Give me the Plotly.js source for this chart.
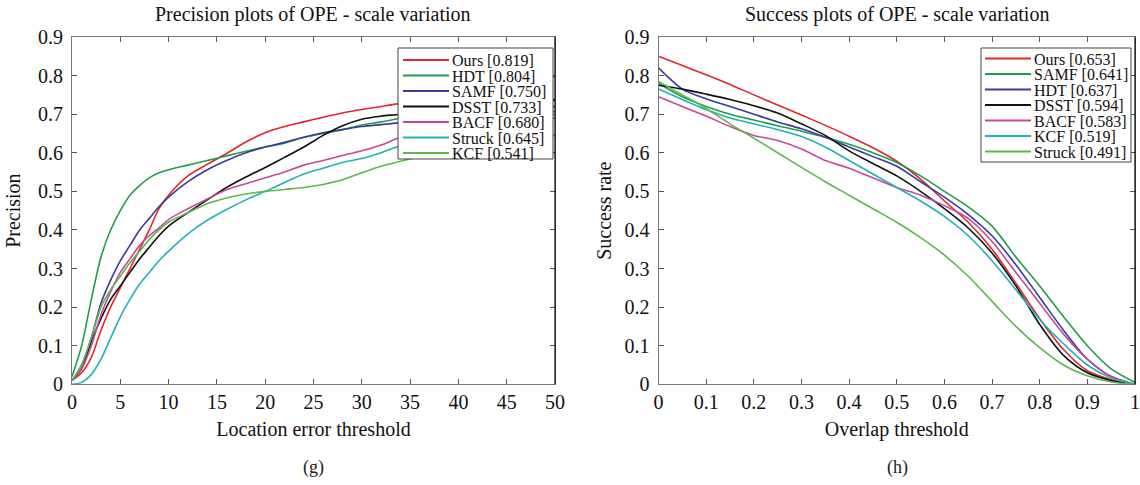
<!DOCTYPE html>
<html>
<head>
<meta charset="utf-8">
<script src="https://cdn.plot.ly/plotly-3.0.1.min.js"></script>
<style>html,body{margin:0;padding:0;background:#fff;}#chart{width:1140px;height:485px;}</style>
</head>
<body>
<div id="chart"></div>
<script>
// ---------- Precision plot (left) ----------
const precX = [0,1,2,3,4,5,6,7,8,9,10,12,14,16,18,20,22,24,26,28,30,32,34,36,38,40,42,44,46,48,50];
const precNames = ["Ours [0.819]","HDT [0.804]","SAMF [0.750]","DSST [0.733]","BACF [0.680]","Struck [0.645]","KCF [0.541]"];
const precOurs   = [0.01,0.03,0.07,0.14,0.20,0.25,0.30,0.35,0.40,0.455,0.49,0.54,0.57,0.598,0.628,0.652,0.668,0.68,0.692,0.703,0.712,0.72,0.728,0.735,0.745,0.755,0.765,0.773,0.782,0.79,0.798];
const precHDT    = [0.02,0.10,0.22,0.33,0.40,0.45,0.49,0.515,0.535,0.548,0.556,0.568,0.58,0.592,0.604,0.615,0.625,0.64,0.65,0.66,0.672,0.68,0.69,0.70,0.705,0.71,0.715,0.72,0.725,0.73,0.735];
const precSAMF   = [0.01,0.05,0.12,0.21,0.27,0.32,0.36,0.40,0.43,0.46,0.485,0.525,0.556,0.58,0.60,0.615,0.627,0.64,0.652,0.66,0.668,0.673,0.678,0.684,0.69,0.695,0.70,0.705,0.71,0.715,0.72];
const precDSST   = [0.01,0.04,0.11,0.17,0.22,0.255,0.29,0.325,0.355,0.385,0.41,0.445,0.478,0.51,0.537,0.562,0.588,0.615,0.645,0.67,0.687,0.695,0.70,0.708,0.713,0.718,0.722,0.726,0.73,0.734,0.738];
const precBACF   = [0.01,0.04,0.10,0.18,0.24,0.29,0.325,0.36,0.385,0.405,0.427,0.455,0.48,0.504,0.52,0.535,0.55,0.568,0.58,0.593,0.605,0.62,0.64,0.65,0.66,0.672,0.68,0.688,0.695,0.70,0.707];
const precStruck = [0.0,0.005,0.025,0.065,0.12,0.175,0.22,0.26,0.29,0.32,0.345,0.39,0.425,0.453,0.478,0.50,0.523,0.545,0.56,0.575,0.585,0.60,0.618,0.628,0.64,0.65,0.66,0.668,0.676,0.683,0.69];
const precKCF    = [0.01,0.05,0.12,0.20,0.245,0.28,0.315,0.345,0.375,0.40,0.42,0.445,0.468,0.483,0.493,0.50,0.505,0.51,0.518,0.53,0.548,0.565,0.578,0.59,0.60,0.61,0.618,0.625,0.632,0.638,0.645];
const precSeries = [precOurs,precHDT,precSAMF,precDSST,precBACF,precStruck,precKCF];

// ---------- Success plot (right) ----------
const succX = [0,0.05,0.1,0.15,0.2,0.25,0.3,0.35,0.4,0.45,0.5,0.55,0.6,0.65,0.7,0.75,0.8,0.85,0.9,0.95,1.0];
const succNames = ["Ours [0.653]","SAMF [0.641]","HDT [0.637]","DSST [0.594]","BACF [0.583]","KCF [0.519]","Struck [0.491]"];
const succOurs   = [0.85,0.826,0.802,0.777,0.75,0.724,0.698,0.671,0.643,0.613,0.578,0.532,0.475,0.42,0.35,0.262,0.17,0.09,0.035,0.012,0.0];
const succSAMF   = [0.78,0.745,0.72,0.70,0.685,0.67,0.656,0.64,0.622,0.60,0.575,0.54,0.50,0.46,0.41,0.33,0.255,0.175,0.10,0.04,0.005];
const succHDT    = [0.82,0.765,0.74,0.72,0.70,0.68,0.662,0.64,0.615,0.59,0.565,0.525,0.485,0.44,0.385,0.31,0.225,0.14,0.065,0.02,0.0];
const succDSST   = [0.775,0.765,0.752,0.738,0.722,0.703,0.675,0.645,0.605,0.572,0.54,0.50,0.455,0.405,0.34,0.255,0.155,0.075,0.03,0.01,0.0];
const succBACF   = [0.745,0.72,0.695,0.668,0.645,0.632,0.61,0.58,0.56,0.535,0.51,0.49,0.463,0.43,0.37,0.29,0.21,0.13,0.065,0.02,0.0];
const succKCF    = [0.765,0.738,0.712,0.69,0.675,0.66,0.642,0.615,0.58,0.545,0.51,0.475,0.435,0.385,0.32,0.245,0.168,0.105,0.05,0.016,0.0];
const succStruck = [0.785,0.75,0.715,0.675,0.638,0.60,0.562,0.525,0.49,0.455,0.42,0.38,0.335,0.28,0.215,0.15,0.095,0.05,0.022,0.006,0.0];
const succSeries = [succOurs,succSAMF,succHDT,succDSST,succBACF,succKCF,succStruck];

const rankColors = ["#e5262b","#1f9e4a","#3a3a9c","#111111","#c8479e","#1fb3b8","#5cb848"];

const W = 1140, H = 485;
const px = v => v / W, py = v => 1 - v / H;
const FONT = "Liberation Serif, Times New Roman, serif";

const traces = [];
precSeries.forEach((ys, i) => traces.push({
  x: precX, y: ys, name: precNames[i], type: "scatter", mode: "lines",
  line: {color: rankColors[i], width: 1.6, shape: "spline", smoothing: 0.8},
  xaxis: "x", yaxis: "y", showlegend: false
}));
succSeries.forEach((ys, i) => traces.push({
  x: succX, y: ys, name: succNames[i], type: "scatter", mode: "lines",
  line: {color: rankColors[i], width: 1.6, shape: "spline", smoothing: 0.8},
  xaxis: "x2", yaxis: "y2", showlegend: false
}));

const axisCommon = {
  showgrid: false, zeroline: false, showline: true, linecolor: "#777", linewidth: 1,
  mirror: "ticks", ticks: "inside", ticklen: 5, tickcolor: "#555",
  tickfont: {family: FONT, size: 20, color: "#111"}, ticklabeloverflow: "allow"
};
const yDom = [py(384.3), py(37)];
const titleFont = {family: FONT, size: 20, color: "#111"};
const yTicks = [0,0.1,0.2,0.3,0.4,0.5,0.6,0.7,0.8,0.9];
const yTickText = ["0","0.1","0.2","0.3","0.4","0.5","0.6","0.7","0.8","0.9"];

// Legend boxes drawn as shapes + real text annotations, placed in pixel space
function legendParts(names, boxL, boxR, boxT, boxB, lineL, lineR, y0, dy) {
  const shapes = [{type: "rect", xref: "paper", yref: "paper", x0: px(boxL), x1: px(boxR), y0: py(boxB), y1: py(boxT),
    fillcolor: "#fff", line: {color: "#444", width: 1}, layer: "above"}];
  const anns = [];
  names.forEach((n, i) => {
    const yy = y0 + i * dy;
    shapes.push({type: "line", xref: "paper", yref: "paper", x0: px(lineL), x1: px(lineR), y0: py(yy), y1: py(yy),
      line: {color: rankColors[i], width: 2}, layer: "above"});
    anns.push({text: n, xref: "paper", yref: "paper", x: px(lineR + 1), y: py(yy + 0.5), xanchor: "left", yanchor: "middle",
      showarrow: false, font: {family: FONT, size: 16, color: "#111"}});
  });
  return {shapes, anns};
}
const legL = legendParts(precNames, 398, 553, 48, 159, 403, 449, 60, 15.5);
const legR = legendParts(succNames, 981, 1131, 48, 162, 985, 1031, 58.5, 15.5);

const layout = {
  width: W, height: H, margin: {l: 0, r: 0, t: 0, b: 0},
  paper_bgcolor: "#fff", plot_bgcolor: "#fff",
  showlegend: false,
  xaxis: Object.assign({}, axisCommon, {
    domain: [px(72), px(555)], range: [0, 50], tickvals: [0,5,10,15,20,25,30,35,40,45,50],
    anchor: "y", title: {text: "Location error threshold", font: titleFont, standoff: 9}
  }),
  yaxis: Object.assign({}, axisCommon, {
    domain: yDom, range: [0, 0.9], tickvals: yTicks, ticktext: yTickText, anchor: "x", ticklabelstandoff: 4,
    title: {text: "Precision", font: titleFont, standoff: 11}
  }),
  xaxis2: Object.assign({}, axisCommon, {
    domain: [px(658.5), px(1135)], range: [0, 1], tickvals: [0,0.1,0.2,0.3,0.4,0.5,0.6,0.7,0.8,0.9,1],
    ticktext: ["0","0.1","0.2","0.3","0.4","0.5","0.6","0.7","0.8","0.9","1"], anchor: "y2",
    title: {text: "Overlap threshold", font: titleFont, standoff: 9}
  }),
  yaxis2: Object.assign({}, axisCommon, {
    domain: yDom, range: [0, 0.9], tickvals: yTicks, ticktext: yTickText, anchor: "x2", ticklabelstandoff: 4,
    title: {text: "Success rate", font: titleFont, standoff: 7}
  }),
  shapes: [
    {type: "line", xref: "paper", yref: "paper", x0: px(555), x1: px(555), y0: yDom[0], y1: yDom[1], line: {color: "#000", width: 1.2}},
    {type: "line", xref: "paper", yref: "paper", x0: px(1135), x1: px(1135), y0: yDom[0], y1: yDom[1], line: {color: "#000", width: 1.2}}
  ].concat(legL.shapes, legR.shapes),
  annotations: [
    {text: "Precision plots of OPE - scale variation", xref: "paper", yref: "paper", x: px(313), y: py(14), showarrow: false, xanchor: "center", yanchor: "middle", font: titleFont},
    {text: "Success plots of OPE - scale variation", xref: "paper", yref: "paper", x: px(897), y: py(14), showarrow: false, xanchor: "center", yanchor: "middle", font: titleFont},
    {text: "(g)", xref: "paper", yref: "paper", x: px(313), y: py(467), showarrow: false, xanchor: "center", yanchor: "middle", font: {family: FONT, size: 18, color: "#222"}},
    {text: "(h)", xref: "paper", yref: "paper", x: px(897), y: py(467), showarrow: false, xanchor: "center", yanchor: "middle", font: {family: FONT, size: 18, color: "#222"}}
  ].concat(legL.anns, legR.anns)
};

Plotly.newPlot("chart", traces, layout, {displayModeBar: false, staticPlot: true});
</script>
</body>
</html>
